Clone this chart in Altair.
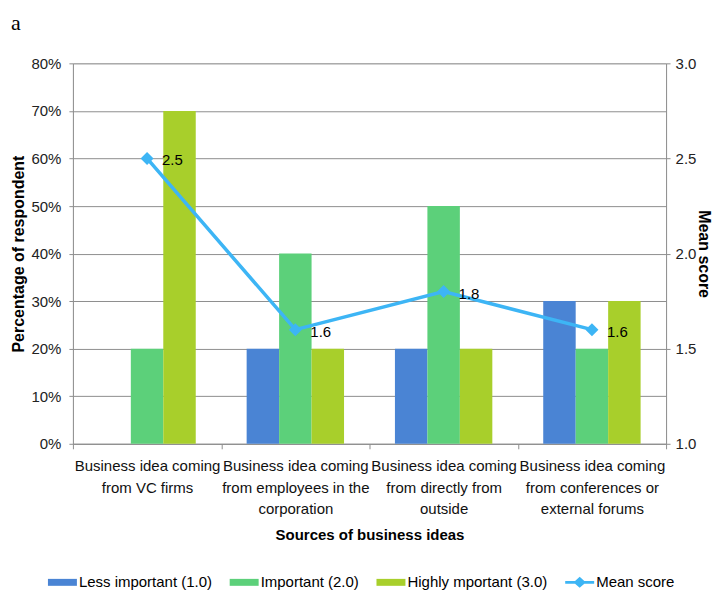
import altair as alt
import pandas as pd

# ---------------- data ----------------
categories = [
    "Business idea coming|from VC firms",
    "Business idea coming|from employees in the|corporation",
    "Business idea coming|from directly from|outside",
    "Business idea coming|from conferences or|external forums",
]
series = ["Less important (1.0)", "Important (2.0)", "Highly mportant (3.0)"]
less_important = [0, 20, 20, 30]
important = [20, 40, 50, 20]
highly_important = [70, 20, 20, 30]
mean_score = [2.5, 1.6, 1.8, 1.6]
mean_label = "Mean score"
pct_ticks = [0, 0.1, 0.2, 0.3, 0.4, 0.5, 0.6, 0.7, 0.8]
mean_ticks = [1.0, 1.5, 2.0, 2.5, 3.0]

# ---------------- styles ----------------
bar_colors = ["#4A84D4", "#5CD07A", "#A8CF2B"]
line_color = "#3DB5F5"
GRID = "#8E8E8E"
FONT = "Liberation Sans"

rows = []
for s, vals in zip(series, [less_important, important, highly_important]):
    for c, v in zip(categories, vals):
        rows.append({"category": c, "series": s, "pct": v / 100})
bars_df = pd.DataFrame(rows)
line_df = pd.DataFrame({"category": categories, "mean": mean_score})
legend_domain = series + [mean_label]
legend_df = pd.DataFrame({"series": legend_domain})

rect_path = "M-1,-0.24H1V0.24H-1Z"
line_path = "M-1,-0.1H-0.32L0,-0.38L0.32,-0.1H1V0.1H0.32L0,0.38L-0.32,0.1H-1Z"

x_enc = alt.X(
    "category:N",
    sort=categories,
    scale=alt.Scale(paddingInner=0, paddingOuter=0),
    axis=alt.Axis(
        title="Sources of business ideas",
        labelExpr="split(datum.label, '|')",
        labelAngle=0,
        labelFontSize=15,
        labelLineHeight=21.5,
        labelLimit=0,
        labelPadding=10,
        labelOverlap=False,
        labelColor="#111111",
        tickBand="extent",
        tickSize=5,
        tickColor=GRID,
        domainColor=GRID,
        titleFontSize=15,
        titleFontWeight="bold",
        titleColor="#000000",
        titlePadding=11,
        grid=False,
    ),
)

bars = alt.Chart(bars_df).mark_bar().encode(
    x=x_enc,
    xOffset=alt.XOffset("series:N", scale=alt.Scale(domain=series, paddingOuter=0.784, paddingInner=0)),
    y=alt.Y(
        "pct:Q",
        scale=alt.Scale(domain=[0, 0.8], nice=False),
        axis=alt.Axis(
            values=pct_ticks,
            format="%",
            title="Percentage of respondent",
            titleFontSize=16,
            titleFontWeight="bold",
            titleColor="#000000",
            titlePadding=4,
            labelFontSize=15,
            labelColor="#222222",
            labelPadding=8,
            tickSize=4,
            tickColor=GRID,
            domainColor=GRID,
            grid=True,
            gridColor=GRID,
            gridWidth=1,
        ),
    ),
    color=alt.Color("series:N", scale=alt.Scale(domain=series, range=bar_colors), legend=None),
)

y_right = alt.Y(
    "mean:Q",
    scale=alt.Scale(domain=[1, 3], nice=False, zero=False),
    axis=alt.Axis(
        orient="right",
        values=mean_ticks,
        format=".1f",
        title="Mean score",
        titleFontSize=16,
        titleFontWeight="bold",
        titleColor="#000000",
        titlePadding=0,
        labelFontSize=15,
        labelColor="#222222",
        labelPadding=5,
        tickSize=4,
        tickColor=GRID,
        domainColor=GRID,
        grid=False,
    ),
)

line = alt.Chart(line_df).mark_line(color=line_color, strokeWidth=3.5).encode(x=x_enc, y=y_right)
points = alt.Chart(line_df).mark_point(
    shape="diamond", filled=True, size=170, color=line_color, opacity=1
).encode(x=x_enc, y=y_right)
labels = alt.Chart(line_df).mark_text(
    align="left", baseline="middle", dx=15, dy=2, fontSize=15, font=FONT, color="#000000"
).encode(x=x_enc, y=y_right, text=alt.Text("mean:Q", format=".1f"))

legend_props = dict(
    title=None,
    orient="none",
    legendX=-25,
    legendY=505,
    direction="horizontal",
    columns=4,
    symbolSize=841,
    symbolStrokeWidth=0,
    labelFontSize=15,
    labelFont=FONT,
    labelColor="#000000",
    labelOffset=2,
    columnPadding=17,
    padding=0,
)

legend_layer = (
    alt.Chart(legend_df)
    .transform_filter("false")
    .mark_point(filled=True, opacity=1)
    .encode(
        color=alt.Color(
            "series:N",
            scale=alt.Scale(domain=legend_domain, range=bar_colors + [line_color]),
            legend=alt.Legend(**legend_props),
        ),
        shape=alt.Shape(
            "series:N",
            scale=alt.Scale(domain=legend_domain, range=[rect_path] * 3 + [line_path]),
            legend=alt.Legend(**legend_props),
        ),
    )
)

chart = (
    alt.layer(bars, alt.layer(line, points, labels), legend_layer)
    .resolve_scale(y="independent", color="independent", shape="independent")
    .properties(
        width=594,
        height=381,
        padding={"left": 2, "top": 4, "right": 0, "bottom": 0},
        title=alt.TitleParams(
            "a",
            anchor="start",
            font="Liberation Serif",
            fontSize=22,
            fontWeight="normal",
            color="#000000",
            offset=21,
        ),
    )
    .configure_view(stroke=None)
    .configure_axis(labelFont=FONT, titleFont=FONT)
    .configure(background="white")
)

chart.save("out.html", embed_options={"renderer": "svg", "actions": False})
